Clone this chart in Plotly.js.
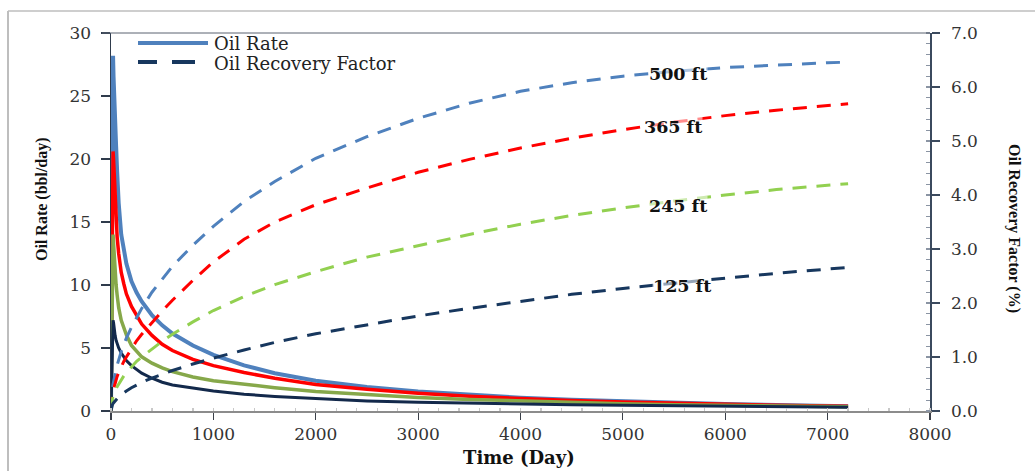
<!DOCTYPE html>
<html>
<head>
<meta charset="utf-8">
<script src="https://cdn.plot.ly/plotly-3.0.1.min.js"></script>
<style>
  html, body { margin: 0; padding: 0; background: #fff; }
  #chart { width: 1035px; height: 471px; }
</style>
</head>
<body>
<div id="chart"></div>
<script>
// Time (days)
const days = [0, 5, 10, 15, 20, 25, 30, 40, 50, 60, 75, 100, 125, 150, 200, 250, 300, 400, 500, 600, 800, 1000, 1300, 1600, 2000, 2500, 3000, 3500, 4000, 4500, 5000, 5500, 6000, 6500, 7000, 7200];

// Oil rate (bbl/day), left axis
const rate500 = [0, 9, 18, 24, 28.2, 26.5, 25, 23, 21, 19, 16.5, 14, 12.8, 11.7, 10.3, 9.4, 8.7, 7.6, 6.8, 6.15, 5.2, 4.45, 3.62, 3.0, 2.4, 1.9, 1.55, 1.28, 1.06, 0.9, 0.77, 0.65, 0.55, 0.47, 0.4, 0.38];
const rate365 = [0, 6, 13, 18, 20.6, 20, 19, 17, 15, 13.8, 12.5, 11, 10.1, 9.3, 8.3, 7.55, 6.9, 6.0, 5.3, 4.8, 4.1, 3.6, 3.05, 2.6, 2.1, 1.72, 1.4, 1.17, 0.98, 0.83, 0.71, 0.61, 0.52, 0.45, 0.39, 0.37];
const rate245 = [0, 4, 9, 12, 14, 13.3, 12.5, 11, 10, 9.2, 8.2, 7.2, 6.6, 6.05, 5.2, 4.7, 4.3, 3.8, 3.42, 3.12, 2.7, 2.4, 2.1, 1.85, 1.55, 1.3, 1.08, 0.92, 0.78, 0.66, 0.57, 0.5, 0.44, 0.39, 0.35, 0.34];
const rate125 = [0, 2.5, 4.5, 6.2, 7.2, 7.0, 6.6, 6.0, 5.6, 5.3, 5.0, 4.6, 4.25, 4.0, 3.6, 3.28, 3.0, 2.6, 2.28, 2.07, 1.8, 1.58, 1.33, 1.16, 1.0, 0.8, 0.69, 0.61, 0.54, 0.49, 0.45, 0.41, 0.37, 0.34, 0.31, 0.3];

// Oil recovery factor (%), right axis
const rf500 = [0, 0.25, 0.35, 0.43, 0.49, 0.55, 0.6, 0.7, 0.78, 0.85, 0.95, 1.1, 1.23, 1.35, 1.55, 1.74, 1.9, 2.2, 2.45, 2.68, 3.07, 3.42, 3.88, 4.25, 4.68, 5.08, 5.42, 5.7, 5.92, 6.08, 6.2, 6.29, 6.36, 6.41, 6.45, 6.46];
const rf365 = [0, 0.18, 0.26, 0.32, 0.37, 0.41, 0.45, 0.52, 0.58, 0.64, 0.71, 0.82, 0.92, 1.0, 1.16, 1.3, 1.42, 1.64, 1.85, 2.05, 2.42, 2.76, 3.18, 3.5, 3.82, 4.13, 4.42, 4.66, 4.87, 5.05, 5.21, 5.35, 5.47, 5.57, 5.66, 5.69];
const rf245 = [0, 0.13, 0.18, 0.22, 0.26, 0.29, 0.32, 0.37, 0.41, 0.45, 0.5, 0.58, 0.65, 0.71, 0.82, 0.92, 1.0, 1.15, 1.29, 1.42, 1.65, 1.86, 2.12, 2.34, 2.58, 2.85, 3.06, 3.27, 3.46, 3.62, 3.76, 3.89, 4.0, 4.1, 4.18, 4.21];
const rf125 = [0, 0.07, 0.1, 0.12, 0.14, 0.15, 0.17, 0.19, 0.22, 0.24, 0.26, 0.3, 0.34, 0.37, 0.43, 0.48, 0.53, 0.61, 0.68, 0.75, 0.87, 0.98, 1.13, 1.27, 1.43, 1.6, 1.76, 1.9, 2.03, 2.16, 2.27, 2.37, 2.46, 2.55, 2.63, 2.66];

const spacingLabels = ['500 ft', '365 ft', '245 ft', '125 ft'];
const legendLabels = ['Oil Rate', 'Oil Recovery Factor'];
const xTitle = 'Time (Day)';
const yTitle = 'Oil Rate (bbl/day)';
const y2Title = 'Oil Recovery Factor (%)';

const rateColors = ['#4F81BD', '#FF0000', '#86A84A', '#13294B'];
const rfColors = ['#4F81BD', '#FF0000', '#92D050', '#17375E'];
const rateWidths = [4, 3.5, 3.5, 3];

const rates = [rate500, rate365, rate245, rate125];
const rfs = [rf500, rf365, rf245, rf125];

const traces = [];
rfs.forEach((rf, i) => {
  traces.push({
    x: days, y: rf, yaxis: 'y2', type: 'scatter', mode: 'lines',
    name: spacingLabels[i] + ' RF', showlegend: false, hoverinfo: 'skip',
    line: { color: rfColors[i], width: 3, dash: '14px,10px' }
  });
});
rates.forEach((r, i) => {
  traces.push({
    x: days, y: r, yaxis: 'y', type: 'scatter', mode: 'lines',
    name: spacingLabels[i] + ' rate', showlegend: false, hoverinfo: 'skip',
    line: { color: rateColors[i], width: rateWidths[i] }
  });
});

// helpers: pixel -> paper coordinates (plot area: x 111..930, y 33..411)
const PL = 111, PR = 930, PT = 33, PB = 411;
const px = v => (v - PL) / (PR - PL);
const py = v => (PB - v) / (PB - PT);

const serif = 'DejaVu Serif, serif';
const tickFont = { family: serif, size: 17, color: '#333333' };

const labelPos = [[5539, 6.24], [5490, 5.26], [5539, 3.80], [5578, 2.31]];

const annotations = spacingLabels.map((t, i) => ({
  x: labelPos[i][0], y: labelPos[i][1], xref: 'x', yref: 'y2',
  text: '<b>' + t + '</b>', showarrow: false,
  font: { family: serif, size: 17.5, color: '#111111' },
  bgcolor: 'rgba(255,255,255,0.55)', borderpad: 0
}));

annotations.push(
  { x: px(212), y: py(44), xref: 'paper', yref: 'paper', xanchor: 'left', yanchor: 'middle',
    text: legendLabels[0], showarrow: false, font: { family: serif, size: 18, color: '#222222' } },
  { x: px(212), y: py(63), xref: 'paper', yref: 'paper', xanchor: 'left', yanchor: 'middle',
    text: legendLabels[1], showarrow: false, font: { family: serif, size: 18, color: '#222222' } },
  { x: px(519), y: py(457), xref: 'paper', yref: 'paper', xanchor: 'center', yanchor: 'middle',
    text: '<b>' + xTitle + '</b>', showarrow: false, font: { family: serif, size: 18, color: '#111111' } },
  { x: px(42), y: py(199), xref: 'paper', yref: 'paper', xanchor: 'center', yanchor: 'middle',
    text: '<b>' + yTitle + '</b>', textangle: -90, showarrow: false,
    font: { family: 'Liberation Serif, serif', size: 16, color: '#111111' } },
  { x: px(1014), y: py(228), xref: 'paper', yref: 'paper', xanchor: 'center', yanchor: 'middle',
    text: '<b>' + y2Title + '</b>', textangle: 90, showarrow: false,
    font: { family: 'Liberation Serif, serif', size: 16, color: '#111111' } }
);

const shapes = [
  // outer chart border (left & top visible)
  { type: 'line', xref: 'paper', yref: 'paper', x0: px(8), x1: px(8), y0: py(11), y1: py(480), line: { color: '#BEBEBE', width: 2 } },
  { type: 'line', xref: 'paper', yref: 'paper', x0: px(8), x1: px(1040), y0: py(11), y1: py(11), line: { color: '#BEBEBE', width: 1.5 } },
  // top frame line of plot area
  { type: 'line', xref: 'paper', yref: 'paper', x0: px(102), x1: px(930), y0: 1, y1: 1, line: { color: '#5A6270', width: 1 } },
  // legend samples
  { type: 'line', xref: 'paper', yref: 'paper', x0: px(138), x1: px(208), y0: py(43), y1: py(43), line: { color: '#4F81BD', width: 4 } },
  { type: 'line', xref: 'paper', yref: 'paper', x0: px(138), x1: px(157), y0: py(62), y1: py(62), line: { color: '#17375E', width: 4 } },
  { type: 'line', xref: 'paper', yref: 'paper', x0: px(172), x1: px(195), y0: py(62), y1: py(62), line: { color: '#17375E', width: 4 } }
];

const layout = {
  width: 1035, height: 471,
  margin: { l: PL, r: 1035 - PR, t: PT, b: 471 - PB, pad: 0 },
  paper_bgcolor: '#ffffff', plot_bgcolor: '#ffffff',
  showlegend: false,
  xaxis: {
    range: [0, 8000], tickmode: 'linear', tick0: 0, dtick: 1000,
    showgrid: false, zeroline: false,
    showline: true, linecolor: '#8C8C8C', linewidth: 1.5,
    ticks: 'outside', ticklen: 7, tickcolor: '#3A3F48', tickwidth: 1.2,
    tickfont: tickFont, ticklabelstandoff: 0,
    minor: { dtick: 200, ticks: 'inside', ticklen: 3, tickcolor: '#C8C8C8' }
  },
  yaxis: {
    range: [0, 30], tickmode: 'linear', tick0: 0, dtick: 5,
    showgrid: false, zeroline: false,
    showline: true, linecolor: '#2F3B4C', linewidth: 1.5,
    ticks: 'outside', ticklen: 9, tickcolor: '#2F3B4C', tickwidth: 1.2,
    tickfont: tickFont, ticklabelstandoff: 6
  },
  yaxis2: {
    overlaying: 'y', side: 'right', anchor: 'x',
    range: [0, 7], tickmode: 'linear', tick0: 0, dtick: 1, tickformat: '.1f',
    showgrid: false, zeroline: false,
    showline: true, linecolor: '#3B4A5E', linewidth: 1.5,
    ticks: 'outside', ticklen: 8, tickcolor: '#3B4A5E', tickwidth: 1.2,
    tickfont: tickFont, ticklabelstandoff: 8,
    minor: { dtick: 0.2, ticks: 'inside', ticklen: 4, tickcolor: '#8A94A3' }
  },
  annotations: annotations,
  shapes: shapes
};

Plotly.newPlot('chart', traces, layout, { staticPlot: true, displayModeBar: false });
</script>
</body>
</html>
